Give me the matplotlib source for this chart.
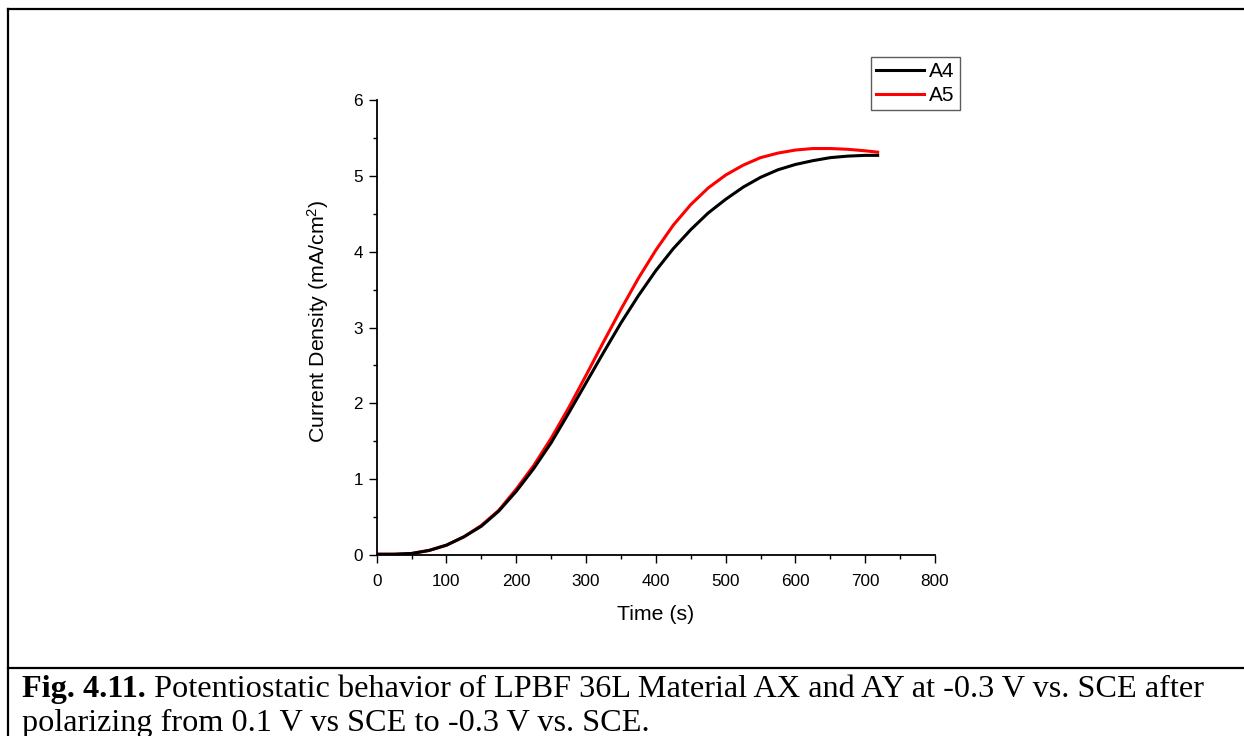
import matplotlib
matplotlib.use("Agg")
import matplotlib.pyplot as plt
from matplotlib.lines import Line2D
from matplotlib.ticker import MultipleLocator

# Potentiostatic hold: current density vs time for two samples
time_s = [0, 25, 50, 75, 100, 125, 150, 175, 200, 225, 250, 275, 300, 325, 350,
          375, 400, 425, 450, 475, 500, 525, 550, 575, 600, 625, 650, 675, 700, 720]
a4_density = [0.01, 0.01, 0.02, 0.06, 0.13, 0.24, 0.38, 0.58, 0.84, 1.14, 1.48, 1.87,
              2.27, 2.67, 3.06, 3.42, 3.75, 4.04, 4.29, 4.51, 4.69, 4.85, 4.98, 5.08,
              5.15, 5.20, 5.24, 5.26, 5.27, 5.27]
a5_density = [0.01, 0.01, 0.02, 0.06, 0.13, 0.24, 0.39, 0.59, 0.87, 1.18, 1.54, 1.94,
              2.37, 2.81, 3.24, 3.65, 4.02, 4.35, 4.62, 4.84, 5.01, 5.14, 5.24, 5.30,
              5.34, 5.36, 5.36, 5.35, 5.33, 5.31]
series_labels = ["A4", "A5"]
x_ticks = [0, 100, 200, 300, 400, 500, 600, 700, 800]
y_ticks = [0, 1, 2, 3, 4, 5, 6]

caption_bold = "Fig. 4.11."
caption_line1 = " Potentiostatic behavior of LPBF 36L Material AX and AY at -0.3 V vs. SCE after"
caption_line2 = "polarizing from 0.1 V vs SCE to -0.3 V vs. SCE."

plt.rcParams["font.family"] = ["Liberation Sans", "DejaVu Sans"]
plt.rcParams["mathtext.fontset"] = "custom"
plt.rcParams["mathtext.rm"] = "Liberation Sans"
plt.rcParams["mathtext.it"] = "Liberation Sans:italic"

W, H = 1244, 736
fig = plt.figure(figsize=(W / 100, H / 100), dpi=100)

def fx(px):
    return px / W

def fy(py):
    return 1 - py / H

ax = fig.add_axes([fx(376.7), fy(555), fx(935) - fx(376.7), fy(100) - fy(555)])

ax.plot(time_s, a5_density, color="#ff0000", lw=2.2, solid_capstyle="butt")
ax.plot(time_s, a4_density, color="#000000", lw=2.2, solid_capstyle="butt")

ax.set_xlim(0, 800)
ax.set_ylim(0, 6)
ax.set_xticks(x_ticks)
ax.set_yticks(y_ticks)
ax.xaxis.set_minor_locator(MultipleLocator(50))
ax.yaxis.set_minor_locator(MultipleLocator(0.5))
ax.spines["top"].set_visible(False)
ax.spines["right"].set_visible(False)
for s in ("left", "bottom"):
    ax.spines[s].set_linewidth(1.3)
ax.tick_params(which="major", direction="out", length=6, width=1.0,
               labelsize=12.3)
ax.tick_params(axis="x", which="major", pad=7.5)
ax.tick_params(axis="y", which="major", pad=4)
ax.tick_params(which="minor", direction="out", length=3, width=1.0)
ax.set_xlabel("Time (s)", fontsize=15.3, labelpad=11.5)
ax.set_ylabel(r"Current Density (mA/cm$^2$)", fontsize=15.3, labelpad=16)
ax.yaxis.label.set_y(0.514)

handles = [Line2D([], [], color="#000000", lw=2.2),
           Line2D([], [], color="#ff0000", lw=2.2)]
leg = fig.legend(handles, series_labels, loc="upper left",
                 bbox_to_anchor=(fx(871), fy(57)), frameon=True, fancybox=False,
                 fontsize=15, handlelength=2.3, handletextpad=0.25,
                 borderpad=0.25, labelspacing=0.22, borderaxespad=0)
leg.get_frame().set_edgecolor("#333333")
leg.get_frame().set_linewidth(1.0)

# page frame around the figure and caption
frame_kw = dict(color="black", lw=1.6, transform=fig.transFigure, clip_on=False)
fig.add_artist(Line2D([fx(8), 1], [fy(9), fy(9)], **frame_kw))
fig.add_artist(Line2D([fx(8), fx(8)], [fy(9), 0], **frame_kw))
fig.add_artist(Line2D([fx(8), 1], [fy(668), fy(668)], **frame_kw))

serif = ["Liberation Serif", "DejaVu Serif"]
cap_size = 23.2
fig.canvas.draw()
renderer = fig.canvas.get_renderer()
t_bold = fig.text(fx(22), fy(697), caption_bold, fontsize=cap_size, family=serif,
                  weight="bold", va="baseline", ha="left")
bb = t_bold.get_window_extent(renderer=renderer)
fig.text(bb.x1 / W, fy(697), caption_line1, fontsize=cap_size, family=serif,
         va="baseline", ha="left")
fig.text(fx(22), fy(731), caption_line2, fontsize=cap_size, family=serif,
         va="baseline", ha="left")

fig.savefig("out.png", dpi=100)
